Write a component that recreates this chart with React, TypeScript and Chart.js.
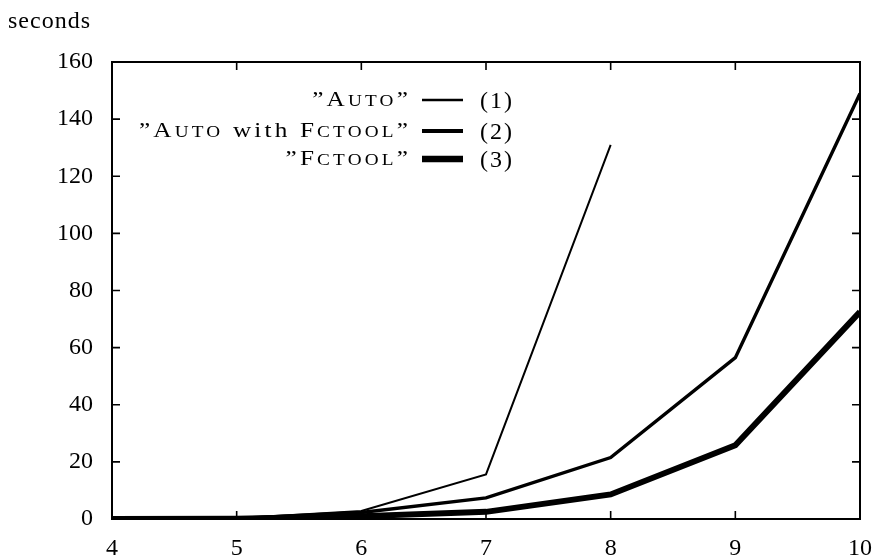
import React, { useEffect, useRef } from "react";
import { Chart, registerables } from "chart.js";

Chart.register(...registerables);

const xValues = [4, 5, 6, 7, 8, 9, 10];
const autoSeries = [0, 0.3, 2.8, 15.6, 131];
const autoFctoolSeries = [0, 0.2, 2.3, 7.4, 21.5, 56.5, 149];
const fctoolSeries = [0, 0.1, 1.0, 2.5, 8.6, 25.8, 72.5];
const yTicks = [0, 20, 40, 60, 80, 100, 120, 140, 160];
const lineWidths = [2, 3.4, 6];
const legendTexts: Array<Array<[string, boolean]>> = [
  [["\u201dA", false], ["UTO", true], ["\u201d", false]],
  [["\u201dA", false], ["UTO", true], [" with F", false], ["CTOOL", true], ["\u201d", false]],
  [["\u201dF", false], ["CTOOL", true], ["\u201d", false]],
];
const legendNums = ["(1)", "(2)", "(3)"];

const FONT = "'Liberation Serif', 'DejaVu Serif', serif";

const framePlugin = {
  id: "frame",
  afterDraw(chart: any) {
    const ctx = chart.ctx;
    const { left, right, top, bottom } = chart.chartArea;
    const xs = chart.scales.x;
    const ys = chart.scales.y;
    ctx.save();
    ctx.strokeStyle = "#000";
    ctx.lineWidth = 2;
    ctx.strokeRect(left, top, right - left, bottom - top);
    ctx.lineWidth = 1.6;
    const tl = 8;
    ctx.beginPath();
    xValues.forEach((v) => {
      const px = xs.getPixelForValue(v);
      ctx.moveTo(px, bottom);
      ctx.lineTo(px, bottom - tl);
      ctx.moveTo(px, top);
      ctx.lineTo(px, top + tl);
    });
    yTicks.forEach((v) => {
      const py = ys.getPixelForValue(v);
      ctx.moveTo(left, py);
      ctx.lineTo(left + tl, py);
      ctx.moveTo(right, py);
      ctx.lineTo(right - tl, py);
    });
    ctx.stroke();

    // y axis title
    ctx.fillStyle = "#000";
    ctx.font = `24px ${FONT}`;
    ctx.letterSpacing = "1px";
    ctx.textAlign = "left";
    ctx.textBaseline = "alphabetic";
    ctx.fillText("seconds", 8, 28);

    // legend
    const textRight = 411;
    const lineY = [100, 131, 159];
    const big = 21;
    const small = 16;
    const sx = 1.2;
    const targetW = 272;
    ctx.letterSpacing = "0px";
    const measureRow = (segs: Array<[string, boolean]>) => {
      let w = 0;
      let n = 0;
      segs.forEach(([t, sc]) => {
        ctx.font = `${sc ? small : big}px ${FONT}`;
        w += ctx.measureText(t).width;
        n += t.length;
      });
      return { w, n };
    };
    const r2 = measureRow(legendTexts[1]);
    const spacing = Math.max(0, (targetW / sx - r2.w) / r2.n);
    legendTexts.forEach((segs, i) => {
      const y = lineY[i];
      const m = measureRow(segs);
      const rowW = (m.w + spacing * m.n) * sx;
      ctx.save();
      ctx.translate(textRight - rowW, y + 6);
      ctx.scale(sx, 1);
      ctx.letterSpacing = `${spacing}px`;
      let x = 0;
      segs.forEach(([t, sc]) => {
        ctx.font = `${sc ? small : big}px ${FONT}`;
        ctx.fillText(t, x, 0);
        x += ctx.measureText(t).width;
      });
      ctx.restore();
      ctx.lineWidth = lineWidths[i] + 0.5;
      ctx.beginPath();
      ctx.moveTo(422, y);
      ctx.lineTo(463, y);
      ctx.stroke();
    });
    ctx.letterSpacing = "2px";
    ctx.font = `24px ${FONT}`;
    legendNums.forEach((t, i) => {
      ctx.fillText(t, 480, lineY[i] + 8);
    });
    ctx.restore();
  },
};

export default function App() {
  const ref = useRef<HTMLCanvasElement>(null);
  useEffect(() => {
    if (!ref.current) return;
    const mk = (vals: number[]) => vals.map((v, i) => ({ x: xValues[i], y: v }));
    const chart = new Chart(ref.current, {
      type: "line",
      data: {
        datasets: [
          { data: mk(autoSeries), borderColor: "#000", borderWidth: lineWidths[0], pointRadius: 0, tension: 0, borderJoinStyle: "miter" },
          { data: mk(autoFctoolSeries), borderColor: "#000", borderWidth: lineWidths[1], pointRadius: 0, tension: 0, borderJoinStyle: "miter" },
          { data: mk(fctoolSeries), borderColor: "#000", borderWidth: lineWidths[2], pointRadius: 0, tension: 0, borderJoinStyle: "miter" },
        ],
      },
      options: {
        responsive: false,
        animation: false,
        layout: { padding: { top: 62, right: 13, left: 0, bottom: 0 } },
        plugins: { legend: { display: false }, tooltip: { enabled: false } },
        scales: {
          x: {
            type: "linear",
            min: 4,
            max: 10,
            grid: { display: false, drawTicks: false },
            border: { display: false },
            afterBuildTicks: (s: any) => { s.ticks = xValues.map((v) => ({ value: v })); },
            afterFit: (s: any) => { s.height = 41; s.paddingLeft = 0; s.paddingRight = 0; },
            ticks: { color: "#000", padding: 15, font: { family: FONT, size: 24 }, maxRotation: 0 },
          },
          y: {
            min: 0,
            max: 160,
            grid: { display: false, drawTicks: false },
            border: { display: false },
            afterBuildTicks: (s: any) => { s.ticks = yTicks.map((v) => ({ value: v })); },
            afterFit: (s: any) => { s.width = 112; s.paddingTop = 0; s.paddingBottom = 0; },
            ticks: { color: "#000", padding: 19, font: { family: FONT, size: 24 } },
          },
        },
      },
      plugins: [framePlugin],
    } as any);
    return () => chart.destroy();
  }, []);
  return (
    <div style={{ position: "fixed", left: 0, top: 0, width: 873, height: 560, background: "#fff" }}>
      <canvas ref={ref} width={873} height={560} style={{ width: 873, height: 560 }} />
    </div>
  );
}
